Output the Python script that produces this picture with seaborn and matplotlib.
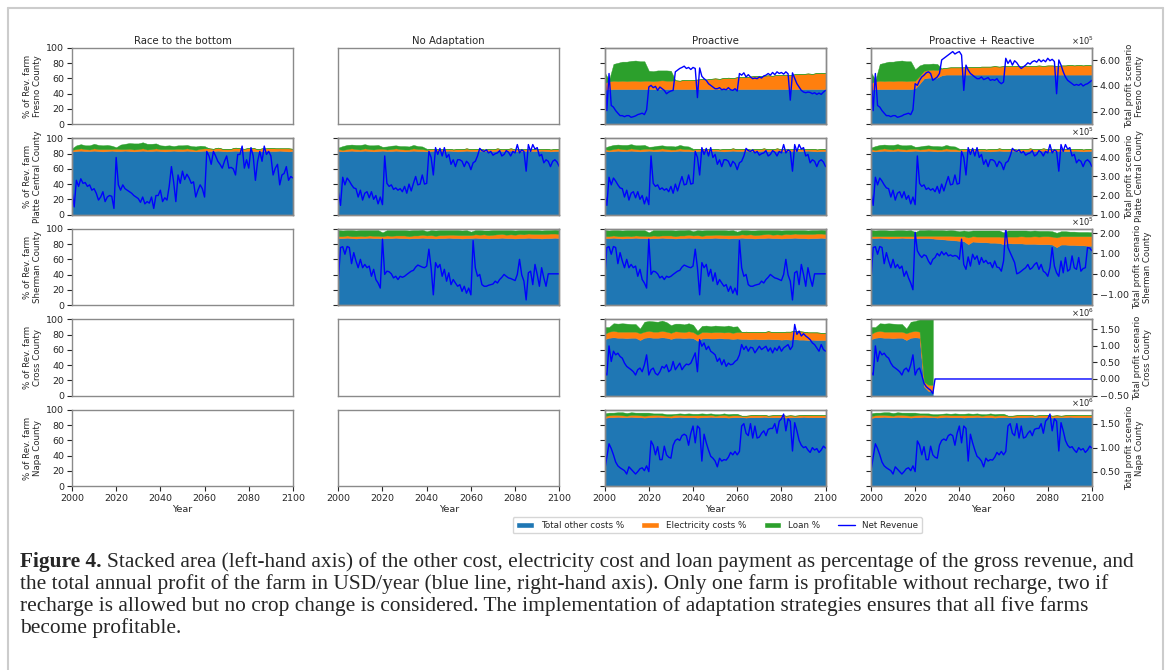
import seaborn as sns
import matplotlib.pyplot as plt
from matplotlib.patches import Patch
from matplotlib.lines import Line2D
from matplotlib.ticker import FuncFormatter

nan = float("nan")

years = list(range(2000, 2101))
area_years = list(range(2000, 2101, 2))

scenarios = ["Race to the bottom", "No Adaptation", "Proactive", "Proactive + Reactive"]
counties = ["Fresno County", "Platte Central County", "Sherman County", "Cross County", "Napa County"]
legend_labels = ["Total other costs %", "Electricity costs %", "Loan %", "Net Revenue"]

# ---- stacked cost shares (% of gross revenue), every second year ----
fresno_pro_other = [45, 46, 46, 46, 46, 46, 46, 46, 46, 46,
                    46, 46, 46, 46, 46, 46, 46, 46, 46, 46,
                    46, 46, 46, 46, 46, 46, 46, 46, 46, 46,
                    46, 46, 46, 46, 46, 46, 46, 46, 46, 46,
                    46, 46, 46, 46, 46, 46, 46, 46, 46, 46,
                    46]
fresno_pro_elec = [9, 10, 11, 10.5, 11, 10.5, 11, 11, 10.5, 11,
                   11, 10.5, 11, 11.5, 11, 11, 11.5, 11, 12, 11.5,
                   12, 12.5, 13, 12.5, 13.5, 14, 13.5, 14.5, 15, 14.5,
                   15.5, 16, 16, 16.5, 17, 17, 17.5, 18, 17.5, 18.5,
                   18.5, 19, 18, 19.5, 20, 20, 20.5, 20, 21, 21.5,
                   21]
fresno_pro_loan = [14, 2, 22, 24, 25, 25.5, 26, 26.5, 26, 25.5,
                   13, 13, 13.5, 13, 13.5, 13, 0, 0, 0, 0,
                   0, 0, 0, 0, 0, 0, 0, 0, 0, 0,
                   0, 0, 0, 0, 0, 0, 0, 0, 0, 0,
                   0, 0, 0, 0, 0, 0, 0, 0, 0, 0,
                   0]

fresno_pr_other = [45, 46, 46, 46, 46, 46, 46, 46, 46, 46,
                   47, 53, 60, 61, 61, 61, 64, 65, 65, 65,
                   65, 65, 65, 65, 65, 65, 65, 65, 65, 65,
                   65, 65, 65, 65, 65, 65, 65, 65, 65, 65,
                   65, 65, 65, 65, 65, 65, 65, 65, 65, 65,
                   65]
fresno_pr_elec = [9, 10, 11, 10.5, 11, 10.5, 11, 11, 10.5, 11,
                  10, 10, 10, 10, 10.5, 10, 9, 9, 9.5, 9.5,
                  9.5, 9.5, 10, 10, 10, 10.5, 10.5, 10.5, 11, 10.5,
                  11, 11, 11, 11.5, 11, 11.5, 11.5, 11.5, 12, 11.5,
                  12, 12, 11.5, 12, 12, 12.5, 12, 12.5, 12, 12.5,
                  12]
fresno_pr_loan = [14, 2, 22, 24, 25, 25.5, 26, 26.5, 26, 25.5,
                  15, 14, 9, 8, 8, 8, 0, 0, 0, 0,
                  0, 0, 0, 0, 0, 0, 0, 0, 0, 0,
                  0, 0, 0, 0, 0, 0, 0, 0, 0, 0,
                  0, 0, 0, 0, 0, 0, 0, 0, 0, 0,
                  0]

platte_race_other = [83, 83.5, 84, 83.5, 83.5, 84, 83.5, 83, 83.5, 84,
                     83.5, 83.5, 84, 83.5, 83, 83.5, 84, 83.5, 83.5, 84,
                     83.5, 83, 83.5, 84, 83.5, 83.5, 84, 83.5, 83, 83.5,
                     84, 83.5, 83.5, 84, 83.5, 83, 83.5, 84, 83.5, 83.5,
                     84, 83.5, 83, 83.5, 84, 83.5, 83.5, 84, 83.5, 83,
                     83.5]
platte_race_elec = [2, 2.5, 3, 2.5, 2, 3, 2.5, 3, 2.5, 2,
                    3, 2.5, 2, 3, 2.5, 2.5, 3, 2, 2.5, 3,
                    2.5, 3, 2.5, 2, 3, 2.5, 3, 2.5, 2, 3,
                    3, 3.5, 3, 4, 3, 3.5, 3, 4, 3.5, 3,
                    3.5, 4, 3, 3.5, 3, 4, 3.5, 3, 3.5, 4,
                    3]
platte_race_loan = [2, 5, 5.5, 5, 5.5, 6, 5.5, 5, 5.5, 4.5,
                    2, 6, 7, 7.5, 8, 7.5, 8, 7.5, 7, 6.5,
                    5, 4.5, 5, 4, 4.5, 5, 4.5, 4, 4.5, 4,
                    3, 0, 0, 0, 0, 0, 0, 0, 0, 0,
                    0, 0, 0, 0, 0, 0, 0, 0, 0, 0,
                    0]

platte_adapt_other = [83.5, 83, 83.5, 84, 83.5, 83.5, 84, 83.5, 83, 83.5,
                      84, 83.5, 83.5, 84, 83.5, 83, 83.5, 84, 83.5, 83.5,
                      83, 83.5, 84, 83.5, 83.5, 84, 83.5, 83, 83.5, 84,
                      83.5, 83.5, 84, 83.5, 83, 83.5, 84, 83.5, 83.5, 84,
                      83.5, 83, 83.5, 84, 83.5, 83.5, 84, 83.5, 83, 83.5,
                      83.5]
platte_adapt_elec = [2.5, 2, 2.5, 3, 2.5, 2, 3, 2.5, 2.5, 3,
                     2.5, 2, 2.5, 3, 2.5, 2.5, 2, 3, 2.5, 2.5,
                     2, 3, 2.5, 2.5, 3, 2.5, 2, 3, 2.5, 3,
                     2.5, 3, 2.5, 2, 3, 2.5, 3, 2.5, 2.5, 3,
                     2.5, 3, 2.5, 2.5, 3, 2.5, 2, 3, 2.5, 2.5,
                     3]
platte_adapt_loan = [2, 5, 5.5, 5, 5.5, 6, 5.5, 5, 5.5, 5,
                     2.5, 4, 4.5, 4, 4, 4.5, 4, 4.5, 4, 3.5,
                     1.5, 0, 0, 0, 0, 0, 0, 0, 0, 0,
                     0, 0, 0, 0, 0, 0, 0, 0, 0, 0,
                     0, 0, 0, 0, 0, 0, 0, 0, 0, 0,
                     0]

sherman_noad_other = [88, 88, 88.5, 88, 87.5, 88, 88, 88.5, 88, 88,
                      87.5, 88, 88, 88.5, 88, 88, 87.5, 88, 88, 88.5,
                      88, 88, 87.5, 88, 88, 88.5, 88, 88, 87.5, 88,
                      88, 88.5, 88, 88, 87.5, 88, 88, 88.5, 88, 88,
                      87.5, 88, 88, 88.5, 88, 88, 87.5, 88, 88, 88.5,
                      88]
sherman_noad_elec = [2.5, 2.5, 3, 2.5, 3, 3, 2.5, 3, 3, 3,
                     3, 3.5, 3, 3, 3.5, 3.5, 3, 3.5, 3.5, 4,
                     3.5, 4, 3.5, 4, 4, 4, 4.5, 4, 4.5, 4,
                     4, 4.5, 4.5, 5, 4.5, 4.5, 5, 5, 4.5, 5,
                     5, 5.5, 5, 5.5, 5.5, 5.5, 6, 5.5, 6, 5.5,
                     5.5]
sherman_noad_loan = [8, 7.5, 7, 8, 7.5, 7.5, 8, 7, 7.5, 7.5,
                     5, 7, 7.5, 7, 7, 7, 7.5, 7, 7, 6.5,
                     5.5, 6.5, 7, 6.5, 6.5, 6, 6, 6.5, 6, 6.5,
                     4.5, 5.5, 6, 5, 6, 6, 5.5, 5, 6, 5.5,
                     5.5, 5, 5.5, 4.5, 5, 5, 4.5, 5, 4.5, 5,
                     5]

sherman_pr_other = [88, 88, 88.5, 88, 87.5, 88, 88, 88.5, 88, 88,
                    87.5, 88, 88, 88, 87.5, 87, 86.5, 86, 85.5, 85,
                    84.5, 84, 80, 83.5, 83, 82.5, 82.5, 82, 82, 81.5,
                    80, 81.5, 81, 81, 81, 80.5, 80.5, 80.5, 80, 80,
                    80, 79.5, 76, 79.5, 79.5, 79, 79, 78.5, 78.5, 78,
                    78]
sherman_pr_elec = [2.5, 2.5, 2, 2.5, 3, 2.5, 2.5, 2, 2.5, 2.5,
                   3, 3, 3, 3, 3.5, 4, 4.5, 5, 5.5, 5.5,
                   6, 6.5, 9, 7, 7, 7.5, 7.5, 8, 8, 8.5,
                   9.5, 8.5, 9, 9, 9.5, 9.5, 9.5, 10, 10, 10.5,
                   10.5, 10.5, 13, 11, 11, 11.5, 11.5, 12, 12, 12.5,
                   12.5]
sherman_pr_loan = [8, 7.5, 8, 8, 7.5, 7.5, 8, 8, 7.5, 8,
                   5.5, 7.5, 7.5, 8, 7.5, 7.5, 7.5, 7, 7.5, 7.5,
                   6.5, 7.5, 8, 7.5, 8, 8, 8, 8, 8, 8,
                   6, 8, 8, 8, 7.5, 8, 7.5, 7.5, 7.5, 7,
                   7, 7, 6, 6.5, 6.5, 6, 6, 5.5, 5.5, 5.5,
                   5]

cross_pro_other = [74, 76, 76.5, 76, 76, 75.5, 76, 76, 73, 76,
                   76.5, 76, 76, 76.5, 76, 74.5, 76, 76, 75.5, 76,
                   75.5, 72, 75, 75.5, 75, 75, 75.5, 75, 75, 74.5,
                   75, 74.5, 74.5, 74, 74.5, 74, 74, 74.5, 74, 74,
                   73.5, 74, 73.5, 74, 73.5, 73.5, 73, 73.5, 73, 73,
                   73]
cross_pro_elec = [7, 8, 8.5, 8, 8, 8.5, 8, 8, 9, 8,
                  8.5, 8, 8, 8.5, 8, 8, 8.5, 8, 8, 8.5,
                  8, 8, 8.5, 8, 8, 8.5, 8, 8, 8.5, 8,
                  8.5, 9, 9.5, 9.5, 9, 9.5, 9.5, 10, 9.5, 9.5,
                  10, 10, 10.5, 11, 11, 10.5, 10, 9.5, 10, 9.5,
                  9.5]
cross_pro_loan = [9, 6, 10, 10.5, 11, 10.5, 10, 10, 6, 13,
                  13, 13.5, 13, 13.5, 12.5, 10, 10, 10.5, 10, 10.5,
                  9.5, 5, 8, 8.5, 8, 8.5, 8, 8, 8.5, 8,
                  7.5, 0, 0, 0, 0, 0, 0, 0, 0, 0,
                  0, 0, 0, 0, 0, 0, 0, 0, 0, 0,
                  0]

# the Cross farm goes bankrupt under Proactive + Reactive: no cost data after 2028
cross_pr_other = [74, 76, 76.5, 76, 76, 75.5, 76, 76, 73, 76,
                  76.5, 76, 12, 6, 5, nan, nan, nan, nan, nan,
                  nan, nan, nan, nan, nan, nan, nan, nan, nan, nan,
                  nan, nan, nan, nan, nan, nan, nan, nan, nan, nan,
                  nan, nan, nan, nan, nan, nan, nan, nan, nan, nan,
                  nan]
cross_pr_elec = [7, 8, 8.5, 8, 8, 8.5, 8, 8, 9, 8,
                 8.5, 8, 6, 8, 9, nan, nan, nan, nan, nan,
                 nan, nan, nan, nan, nan, nan, nan, nan, nan, nan,
                 nan, nan, nan, nan, nan, nan, nan, nan, nan, nan,
                 nan, nan, nan, nan, nan, nan, nan, nan, nan, nan,
                 nan]
cross_pr_loan = [9, 6, 10, 10.5, 11, 10.5, 10, 10, 6, 13,
                 13, 16, 82, 86, 86, nan, nan, nan, nan, nan,
                 nan, nan, nan, nan, nan, nan, nan, nan, nan, nan,
                 nan, nan, nan, nan, nan, nan, nan, nan, nan, nan,
                 nan, nan, nan, nan, nan, nan, nan, nan, nan, nan,
                 nan]

napa_other = [89.5, 90.5, 90.5, 91, 90.5, 90.5, 91, 90.5, 90.5, 90,
              90.5, 90.5, 91, 90.5, 90.5, 90, 90.5, 91, 90.5, 90.5,
              90.5, 90, 90.5, 90.5, 91, 90.5, 90.5, 90.5, 90, 90.5,
              90.5, 90.5, 90, 90.5, 90.5, 90.5, 91, 90.5, 90.5, 90.5,
              90.5, 90, 90.5, 90.5, 90.5, 91, 90.5, 90.5, 90.5, 90.5,
              90.5]
napa_elec = [2.5, 2.5, 3, 2.5, 2.5, 2, 2.5, 3, 2.5, 2.5,
             2.5, 3, 2.5, 2.5, 2, 2.5, 3, 2.5, 2.5, 2.5,
             2.5, 3, 2.5, 2.5, 2.5, 2, 2.5, 3, 2.5, 2.5,
             2.5, 2, 2.5, 2.5, 3, 2.5, 2.5, 2, 2.5, 2.5,
             3, 2.5, 2.5, 2, 2.5, 2.5, 3, 2.5, 2.5, 2.5,
             2.5]
napa_loan = [3.5, 3.5, 3, 3.5, 4, 3.5, 3.5, 3, 3.5, 4,
             3.5, 2, 2, 2.5, 2, 2, 1.5, 2, 2, 2.5,
             2, 2, 2.5, 2, 2, 2, 1.5, 2, 2, 2,
             2, 0, 0, 0, 0, 0, 0, 0, 0, 0,
             0, 0, 0, 0, 0, 0, 0, 0, 0, 0,
             0]

# ---- total annual profit (USD/year), yearly; rows 1-3 in 1e5, rows 4-5 in 1e6 ----
fresno_pro_rev = [5.36, 2.09, 4.97, 2.49, 2.36, 2.09, 1.89, 1.70, 1.70, 1.62,
                  1.70, 1.70, 1.57, 1.62, 1.68, 1.78, 1.83, 1.89, 1.78, 2.15,
                  3.92, 4.05, 3.87, 3.97, 3.66, 3.92, 3.79, 3.66, 3.40, 3.53,
                  3.61, 3.66, 5.10, 5.23, 5.36, 5.44, 5.54, 5.36, 5.44, 5.28,
                  5.44, 5.36, 3.10, 5.40, 4.75, 4.57, 4.44, 4.18, 4.05, 3.92,
                  3.79, 3.79, 3.87, 3.71, 3.76, 3.71, 3.87, 3.71, 3.66, 3.79,
                  3.61, 4.97, 4.84, 5.02, 4.70, 4.88, 4.70, 4.57, 4.62, 4.57,
                  4.70, 4.62, 4.78, 4.84, 4.97, 4.84, 5.05, 4.88, 5.10, 4.97,
                  5.05, 4.92, 5.10, 4.95, 2.90, 5.02, 4.60, 4.18, 3.92, 3.66,
                  3.53, 3.48, 3.53, 3.50, 3.40, 3.48, 3.35, 3.45, 3.35, 3.53,
                  3.66]
fresno_pr_rev = [5.36, 2.09, 4.97, 2.49, 2.36, 2.09, 1.89, 1.70, 1.70, 1.62,
                 1.70, 1.70, 1.57, 1.62, 1.68, 1.78, 1.83, 1.89, 1.78, 2.15,
                 4.18, 4.05, 4.44, 4.70, 4.84, 5.02, 5.10, 4.97, 4.44, 4.57,
                 4.70, 4.97, 6.02, 6.15, 6.28, 6.41, 6.54, 6.67, 6.48, 6.59,
                 6.67, 6.40, 3.66, 5.62, 5.23, 4.97, 4.84, 4.70, 4.57, 4.57,
                 4.70, 4.50, 4.57, 4.65, 4.44, 4.50, 4.44, 4.57, 4.31, 4.18,
                 4.31, 6.15, 5.75, 6.02, 5.62, 5.96, 5.80, 5.54, 5.36, 5.49,
                 5.62, 5.80, 5.70, 5.88, 5.96, 5.85, 6.07, 5.88, 6.02, 5.88,
                 6.15, 5.96, 6.07, 5.90, 3.40, 6.02, 5.62, 5.10, 4.70, 4.44,
                 4.31, 4.18, 4.05, 4.12, 4.05, 4.18, 4.00, 4.12, 4.18, 4.31,
                 4.44]
platte_race_rev = [2.28, 1.40, 2.80, 2.48, 2.88, 2.64, 2.68, 2.48, 2.56, 2.28,
                   2.36, 2.12, 1.76, 1.92, 2.20, 1.68, 1.92, 2.00, 1.96, 1.32,
                   4.00, 2.56, 2.28, 2.56, 2.36, 2.28, 2.20, 2.12, 2.00, 1.92,
                   1.84, 1.64, 1.92, 1.56, 1.68, 1.60, 1.92, 1.32, 2.00, 2.00,
                   2.28, 1.68, 1.88, 1.76, 2.48, 3.52, 2.72, 1.68, 3.08, 2.64,
                   3.28, 2.84, 3.12, 2.92, 2.64, 2.72, 1.92, 2.28, 2.56, 2.36,
                   1.92, 4.32, 4.08, 3.64, 4.32, 4.08, 3.80, 3.64, 3.44, 3.80,
                   4.08, 3.44, 3.48, 3.40, 3.08, 4.16, 4.16, 4.60, 3.44, 3.88,
                   3.44, 4.52, 4.08, 2.80, 3.80, 4.32, 3.80, 4.60, 4.16, 4.32,
                   4.08, 3.08, 3.44, 3.64, 2.56, 3.08, 3.16, 3.52, 2.80, 3.00,
                   2.92]
platte_adapt_rev = [2.20, 1.48, 2.96, 2.56, 2.92, 2.76, 2.56, 2.40, 2.36, 1.92,
                    2.28, 1.76, 2.12, 2.20, 1.88, 2.20, 1.80, 2.00, 1.56, 1.92,
                    1.52, 4.08, 2.64, 2.48, 2.56, 2.32, 2.40, 2.28, 2.36, 2.20,
                    2.48, 2.12, 2.60, 2.24, 2.64, 3.00, 2.56, 2.60, 3.08, 2.60,
                    2.64, 4.32, 4.00, 3.08, 4.52, 4.16, 4.48, 4.08, 4.52, 4.00,
                    4.16, 3.64, 3.88, 3.52, 3.88, 3.88, 3.80, 3.52, 3.80, 3.68,
                    3.36, 3.72, 3.80, 4.08, 4.48, 4.36, 4.32, 4.40, 4.24, 4.32,
                    4.12, 4.20, 4.24, 4.36, 4.08, 4.16, 4.36, 4.28, 4.08, 4.32,
                    4.24, 4.68, 4.24, 4.40, 4.32, 3.28, 4.68, 4.32, 4.68, 4.44,
                    4.52, 4.08, 4.16, 3.72, 3.88, 3.80, 3.52, 3.80, 3.88, 3.76,
                    3.52]
sherman_noad_rev = [-0.36, 1.29, 1.33, 0.96, 1.34, 1.29, 0.50, 1.04, 0.63, 0.30,
                    0.71, 0.30, 0.46, 0.30, 0.38, -0.12, 0.22, -0.28, -0.45, -0.70,
                    1.70, -0.03, 0.13, 0.10, 0.00, -0.20, -0.12, -0.28, -0.12, -0.17,
                    -0.12, -0.03, 0.05, 0.13, 0.17, 0.33, 0.43, 0.38, 0.33, 0.30,
                    0.38, 1.21, 0.30, -1.03, 0.55, 0.30, 0.46, -0.12, 0.22, -0.36,
                    0.05, -0.53, -0.28, -0.45, -0.61, -0.53, -0.86, -0.61, -0.95, -0.70,
                    -1.03, 1.63, 0.30, -0.12, -0.03, -0.53, -0.61, -0.61, -0.56, -0.53,
                    -0.50, -0.36, -0.45, -0.28, -0.17, -0.03, -0.12, -0.20, -0.23, -0.28,
                    -0.33, -0.03, 0.71, -0.05, -0.36, -1.28, 0.05, 0.13, -0.53, 0.46,
                    -0.03, -0.61, 0.30, -0.20, -0.61, 0.00, 0.00, 0.00, 0.00, 0.00,
                    0.00]
sherman_pr_rev = [-0.36, 1.29, 1.33, 0.96, 1.34, 1.29, 0.50, 1.04, 0.63, 0.30,
                  0.71, 0.30, 0.46, 0.26, 0.38, -0.12, 0.13, -0.20, -0.45, -0.78,
                  2.04, 1.13, 0.93, 0.80, 0.93, 0.88, 0.63, 0.46, 0.71, 0.80,
                  1.00, 0.88, 1.09, 0.93, 1.04, 0.88, 0.93, 0.86, 0.90, 0.86,
                  0.71, 1.70, 0.46, 0.22, 0.83, 0.38, 0.96, 0.71, 0.88, 0.46,
                  0.80, 0.55, 0.66, 0.50, 0.55, 0.30, 0.63, 0.33, 0.30, 0.13,
                  0.63, 2.25, 1.29, 1.04, 0.80, 0.55, 0.00, 0.05, 0.13, 0.22,
                  0.30, 0.46, 0.22, 0.30, 0.46, 0.55, 0.22, 0.46, 0.13, 0.05,
                  -0.12, 0.30, 1.29, 0.38, 0.05, -0.12, 0.63, 0.05, 0.80, 0.13,
                  0.22, 0.88, 0.30, 0.22, 0.80, 0.13, 0.26, 0.30, 1.29, 1.26,
                  1.13]
cross_pro_rev = [0.22, 0.12, 1.00, 0.53, 0.84, 0.73, 0.78, 0.68, 0.63, 0.48,
                 0.38, 0.33, 0.28, 0.22, 0.12, 0.28, 0.33, 0.22, 0.43, 0.73,
                 0.12, 0.28, 0.33, 0.17, 0.12, 0.22, 0.38, 0.33, 0.43, 0.22,
                 0.28, 0.53, 0.28, 0.38, 0.48, 0.28, 0.38, 0.45, 0.43, 0.48,
                 0.63, 0.79, 0.22, 1.19, 0.99, 1.09, 0.89, 0.99, 0.84, 0.79,
                 0.73, 0.53, 0.63, 0.43, 0.58, 0.38, 0.48, 0.43, 0.45, 0.53,
                 0.58, 0.73, 1.04, 0.89, 0.99, 0.84, 0.96, 0.94, 0.79, 0.89,
                 0.99, 0.89, 0.94, 0.99, 0.84, 0.94, 0.79, 0.94, 0.86, 0.99,
                 0.84, 0.94, 0.99, 1.04, 0.89, 0.99, 1.65, 1.35, 1.45, 1.30,
                 1.37, 1.30, 1.25, 1.19, 1.09, 1.04, 0.94, 0.84, 1.04, 0.89,
                 0.84]
cross_pr_rev = [0.22, 0.12, 1.00, 0.53, 0.84, 0.73, 0.78, 0.68, 0.63, 0.48,
                0.38, 0.33, 0.28, 0.22, 0.12, 0.28, 0.33, 0.22, 0.43, 0.73,
                0.12, 0.28, 0.33, 0.12, -0.13, -0.23, -0.29, -0.34, -0.44, 0.00,
                0.00, 0.00, 0.00, 0.00, 0.00, 0.00, 0.00, 0.00, 0.00, 0.00,
                0.00, 0.00, 0.00, 0.00, 0.00, 0.00, 0.00, 0.00, 0.00, 0.00,
                0.00, 0.00, 0.00, 0.00, 0.00, 0.00, 0.00, 0.00, 0.00, 0.00,
                0.00, 0.00, 0.00, 0.00, 0.00, 0.00, 0.00, 0.00, 0.00, 0.00,
                0.00, 0.00, 0.00, 0.00, 0.00, 0.00, 0.00, 0.00, 0.00, 0.00,
                0.00, 0.00, 0.00, 0.00, 0.00, 0.00, 0.00, 0.00, 0.00, 0.00,
                0.00, 0.00, 0.00, 0.00, 0.00, 0.00, 0.00, 0.00, 0.00, 0.00,
                0.00]
napa_rev = [0.51, 0.80, 1.08, 0.98, 0.85, 0.70, 0.62, 0.58, 0.55, 0.52,
            0.45, 0.60, 0.55, 0.50, 0.45, 0.50, 0.56, 0.58, 0.52, 0.62,
            0.50, 1.14, 1.05, 0.85, 1.02, 0.75, 0.75, 1.03, 0.85, 0.80,
            0.78, 1.05, 1.15, 1.18, 1.15, 1.25, 1.28, 1.25, 1.05, 1.30,
            1.45, 1.10, 1.45, 1.40, 0.72, 1.28, 1.10, 0.95, 0.82, 0.78,
            0.72, 0.60, 0.78, 0.72, 0.75, 0.74, 0.80, 0.90, 0.85, 0.92,
            0.85, 0.92, 1.45, 1.50, 1.30, 1.25, 1.50, 1.20, 1.45, 1.20,
            1.22, 1.30, 1.35, 1.25, 1.38, 1.40, 1.40, 1.50, 1.30, 1.55,
            1.60, 1.70, 1.35, 1.60, 1.55, 0.93, 1.52, 1.35, 1.15, 1.05,
            1.00, 1.02, 0.95, 0.90, 1.00, 0.95, 0.98, 0.90, 0.95, 1.03,
            0.99]

# (row, col) -> data; empty panels are the farms that are not profitable
panels = {
    (0, 2): (fresno_pro_other, fresno_pro_elec, fresno_pro_loan, fresno_pro_rev),
    (0, 3): (fresno_pr_other, fresno_pr_elec, fresno_pr_loan, fresno_pr_rev),
    (1, 0): (platte_race_other, platte_race_elec, platte_race_loan, platte_race_rev),
    (1, 1): (platte_adapt_other, platte_adapt_elec, platte_adapt_loan, platte_adapt_rev),
    (1, 2): (platte_adapt_other, platte_adapt_elec, platte_adapt_loan, platte_adapt_rev),
    (1, 3): (platte_adapt_other, platte_adapt_elec, platte_adapt_loan, platte_adapt_rev),
    (2, 1): (sherman_noad_other, sherman_noad_elec, sherman_noad_loan, sherman_noad_rev),
    (2, 2): (sherman_noad_other, sherman_noad_elec, sherman_noad_loan, sherman_noad_rev),
    (2, 3): (sherman_pr_other, sherman_pr_elec, sherman_pr_loan, sherman_pr_rev),
    (3, 2): (cross_pro_other, cross_pro_elec, cross_pro_loan, cross_pro_rev),
    (3, 3): (cross_pr_other, cross_pr_elec, cross_pr_loan, cross_pr_rev),
    (4, 2): (napa_other, napa_elec, napa_loan, napa_rev),
    (4, 3): (napa_other, napa_elec, napa_loan, napa_rev),
}

profit_exp = [5, 5, 5, 6, 6]
profit_lims = [(1.05, 6.95), (1.0, 5.0), (-1.53, 2.2), (-0.5, 1.8), (0.2, 1.785)]
profit_ticks = [[2, 4, 6], [1, 2, 3, 4, 5], [-1, 0, 1, 2], [-0.5, 0, 0.5, 1, 1.5], [0.5, 1.0, 1.5]]

area_colors = ["#1f77b4", "#ff7f0e", "#2ca02c"]
line_color = "blue"
frame = "#8a8a8a"
fs = 6.8

sns.set_theme(style="ticks", rc={"axes.linewidth": 1.0, "xtick.major.size": 3.5,
                                 "ytick.major.size": 3.5, "xtick.major.width": 0.8,
                                 "ytick.major.width": 0.8})
plt.rcParams["font.family"] = ["DejaVu Sans"]

fig, axes = plt.subplots(5, 4, figsize=(11.7, 6.7), dpi=100, sharex=True, sharey=True)
fig.subplots_adjust(left=0.0615, right=0.9333, top=0.9284, bottom=0.2746,
                    wspace=0.205, hspace=0.19)

two_dec = FuncFormatter(lambda v, p: f"{v:.2f}".replace("-", "\u2212"))

for r in range(5):
    for c in range(4):
        ax = axes[r, c]
        ax.set_xlim(2000, 2100)
        ax.set_ylim(0, 100)
        ax.set_yticks([0, 20, 40, 60, 80, 100])
        ax.set_xticks([2000, 2020, 2040, 2060, 2080, 2100])
        ax.tick_params(labelsize=fs, pad=2)
        for s in ax.spines.values():
            s.set_color(frame)
        if c > 0:
            ax.tick_params(left=False)
        else:
            ax.set_ylabel("% of Rev. farm\n" + counties[r], fontsize=6.2, labelpad=3)
        if r < 4:
            ax.tick_params(bottom=False)
        else:
            ax.set_xlabel("Year", fontsize=fs, labelpad=2)
        if r == 0:
            ax.set_title(scenarios[c], fontsize=7.3, pad=3)

        if (r, c) not in panels:
            continue
        other, elec, loan, rev = panels[(r, c)]
        ax.stackplot(area_years, other, elec, loan, colors=area_colors,
                     edgecolor="face", linewidth=0.3)

        ax2 = ax.twinx()
        sns.lineplot(x=years, y=rev, ax=ax2, color=line_color, linewidth=1.0)
        ax2.set_ylim(*profit_lims[r])
        ax2.set_xlim(2000, 2100)
        for s in ax2.spines.values():
            s.set_color(frame)
        if c == 3:
            ax2.set_yticks(profit_ticks[r])
            ax2.yaxis.set_major_formatter(two_dec)
            ax2.tick_params(axis="y", labelsize=fs, pad=2)
            ax2.set_ylabel("Total profit scenario\n" + counties[r], fontsize=6.1, labelpad=3)
            ax2.text(1.01, 1.01, r"$\times10^{%d}$" % profit_exp[r], transform=ax2.transAxes,
                     ha="right", va="bottom", fontsize=6)
        else:
            ax2.set_yticks([])
            ax2.set_ylabel("")

handles = [Patch(facecolor=col) for col in area_colors]
handles.append(Line2D([0], [0], color=line_color, lw=1.0))
fig.legend(handles, legend_labels, loc="center", bbox_to_anchor=(0.613, 0.216), ncol=4,
           fontsize=6.3, frameon=True, handlelength=2.0, columnspacing=2.0,
           borderpad=0.4, fancybox=True)

# caption box lines
box = "#cccccc"
fig.add_artist(Line2D([7.5 / 1170, 7.5 / 1170], [0, 1 - 7.5 / 670], transform=fig.transFigure, color=box, lw=1.5))
fig.add_artist(Line2D([7.5 / 1170, 1163 / 1170], [1 - 7.5 / 670, 1 - 7.5 / 670], transform=fig.transFigure, color=box, lw=1.5))
fig.add_artist(Line2D([1163 / 1170, 1163 / 1170], [0, 1 - 7.5 / 670], transform=fig.transFigure, color=box, lw=1.5))

caption = [
    "Stacked area (left-hand axis) of the other cost, electricity cost and loan payment as percentage of the gross revenue, and",
    "the total annual profit of the farm in USD/year (blue line, right-hand axis). Only one farm is profitable without recharge, two if",
    "recharge is allowed but no crop change is considered. The implementation of adaptation strategies ensures that all five farms",
    "become profitable.",
]
cap_font = ["Liberation Serif", "DejaVu Serif"]
cap_size = 15.4
cap_left = 20 / 1170
baselines = [567, 589, 611, 633]

head = fig.text(cap_left, 1 - baselines[0] / 670, "Figure 4.", family=cap_font, weight="bold",
                size=cap_size, va="baseline", ha="left")
renderer = fig.canvas.get_renderer()
bb = head.get_window_extent(renderer=renderer)
fig.text((bb.x1 + 5) / fig.bbox.width, 1 - baselines[0] / 670, caption[0], family=cap_font,
         size=cap_size, va="baseline", ha="left")
for line, y in zip(caption[1:], baselines[1:]):
    fig.text(cap_left, 1 - y / 670, line, family=cap_font, size=cap_size, va="baseline", ha="left")

fig.savefig("out.png", dpi=100)
